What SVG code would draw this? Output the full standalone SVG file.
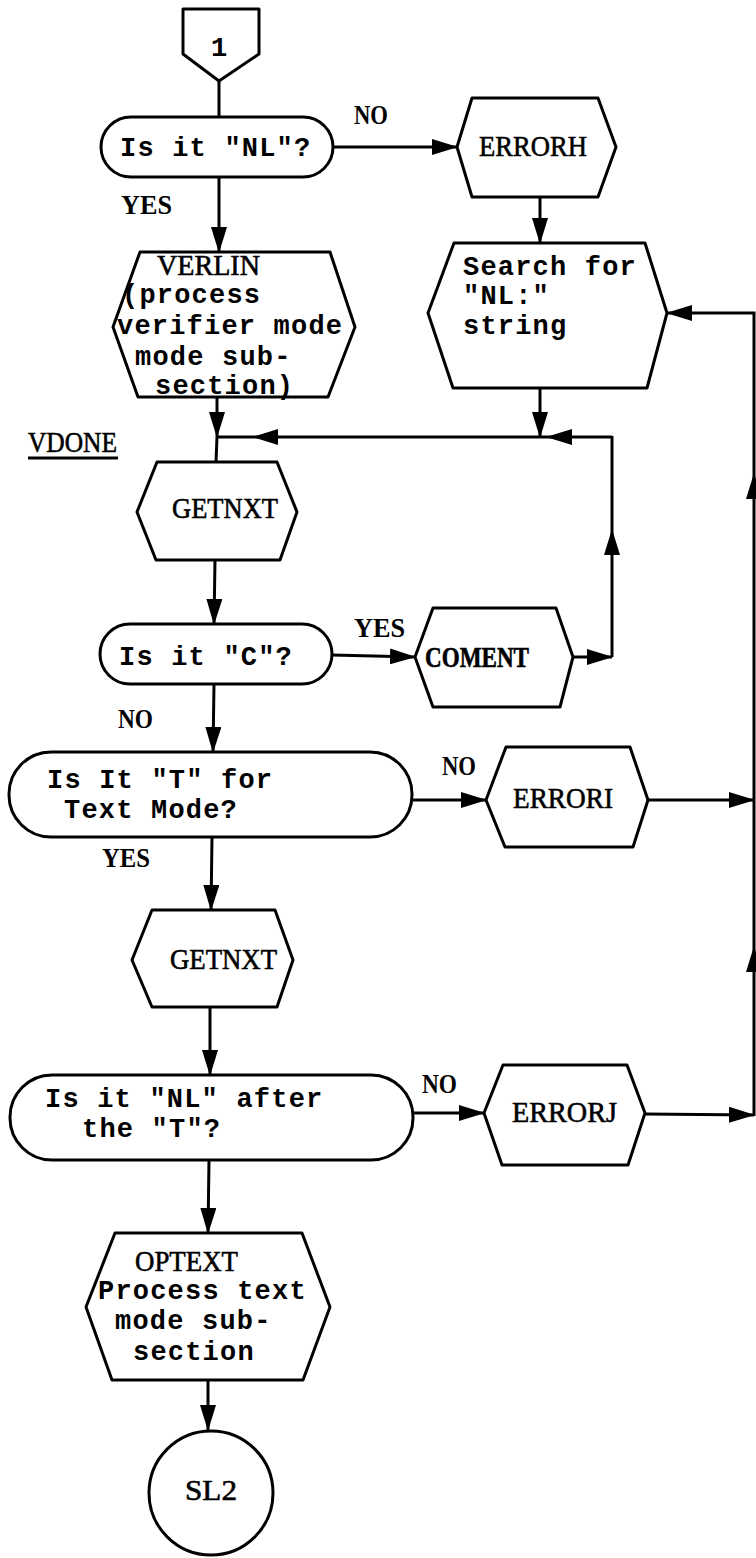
<svg xmlns="http://www.w3.org/2000/svg" width="756" height="1558" viewBox="0 0 756 1558">
<style>
.s{fill:#fff;stroke:#000;stroke-width:3;stroke-linejoin:round}
.c{fill:none;stroke:#000;stroke-width:3}
.m{font-family:"Liberation Mono","DejaVu Sans Mono",monospace;font-size:27px;letter-spacing:1.2px;font-weight:bold;fill:#000}
.l{font-family:"Liberation Serif","DejaVu Serif",serif;font-size:29px;fill:#000;stroke:#000;stroke-width:0.6px}
.y{font-family:"Liberation Serif","DejaVu Serif",serif;font-size:27px;font-weight:bold;fill:#000}
</style>
<defs>
<marker id="ah" markerUnits="userSpaceOnUse" markerWidth="26" markerHeight="16" refX="25" refY="8" orient="auto">
<path d="M0,0 L26,8 L0,16 z" fill="#000"/>
</marker>
</defs>
<rect width="756" height="1558" fill="#fff"/>
<g id="connectors">
<path class="c" d="M219,81 L219,117"/>
<path class="c" d="M333,147 L457,147" marker-end="url(#ah)"/>
<path class="c" d="M219,177 L219,252" marker-end="url(#ah)"/>
<path class="c" d="M540,197 L540,243" marker-end="url(#ah)"/>
<path class="c" d="M217,397 L217,437" marker-end="url(#ah)"/>
<path class="c" d="M217,437 L216,462"/>
<path class="c" d="M540,388 L540,437" marker-end="url(#ah)"/>
<path class="c" d="M612,437 L547,437" marker-end="url(#ah)"/>
<path class="c" d="M547,437 L253,437" marker-end="url(#ah)"/>
<path class="c" d="M253,437 L217,437"/>
<path class="c" d="M612,657 L612,530" marker-end="url(#ah)"/>
<path class="c" d="M612,530 L612,436"/>
<path class="c" d="M573,657 L612,657" marker-end="url(#ah)"/>
<path class="c" d="M332,655 L415,657" marker-end="url(#ah)"/>
<path class="c" d="M215,560 L214,624" marker-end="url(#ah)"/>
<path class="c" d="M214,684 L213,752" marker-end="url(#ah)"/>
<path class="c" d="M412,800 L486,800" marker-end="url(#ah)"/>
<path class="c" d="M648,800 L754,800" marker-end="url(#ah)"/>
<path class="c" d="M212,837 L211,910" marker-end="url(#ah)"/>
<path class="c" d="M210,1007 L210,1075" marker-end="url(#ah)"/>
<path class="c" d="M413,1113 L484,1113" marker-end="url(#ah)"/>
<path class="c" d="M645,1114 L754,1115" marker-end="url(#ah)"/>
<path class="c" d="M754,1116 L754,947" marker-end="url(#ah)"/>
<path class="c" d="M754,947 L754,474" marker-end="url(#ah)"/>
<path class="c" d="M754,474 L754,313 L667,313" marker-end="url(#ah)"/>
<path class="c" d="M209,1160 L208,1233" marker-end="url(#ah)"/>
<path class="c" d="M208,1380 L208,1430" marker-end="url(#ah)"/>
</g>
<g id="n_start">
<polygon class="s" points="183,9 259,9 259,54 219,81 183,54"/>
<text class="m" x="211" y="56">1</text>
</g>
<g id="n_isNL">
<rect class="s" x="101" y="117" width="232" height="60" rx="30"/>
<text class="m" x="120" y="156">Is it "NL"?</text>
</g>
<g id="n_errorh">
<polygon class="s" points="472,98 598,98 616,147 598,197 472,197 457,147"/>
<text class="l" x="479" y="156" textLength="108" lengthAdjust="spacingAndGlyphs">ERRORH</text>
</g>
<g id="n_search">
<polygon class="s" points="454,243 645,243 667,313 647,388 453,388 428,313"/>
<text class="m" x="463" y="275">Search for</text>
<text class="m" x="463" y="304">"NL:"</text>
<text class="m" x="463" y="334">string</text>
</g>
<g id="n_verlin">
<polygon class="s" points="140,252 330,252 355,327 328,397 138,397 113,327"/>
<text class="l" x="157" y="275" textLength="103" lengthAdjust="spacingAndGlyphs">VERLIN</text>
<text class="m" x="122" y="303">(process</text>
<text class="m" x="117" y="334">verifier mode</text>
<text class="m" x="135" y="365">mode sub-</text>
<text class="m" x="155" y="394">section)</text>
</g>
<g id="n_getnxt1">
<polygon class="s" points="157,462 277,462 297,512 280,560 156,560 137,512"/>
<text class="l" x="172" y="518" textLength="106" lengthAdjust="spacingAndGlyphs">GETNXT</text>
</g>
<g id="n_isC">
<rect class="s" x="100" y="624" width="232" height="60" rx="30"/>
<text class="m" x="119" y="665">Is it "C"?</text>
</g>
<g id="n_coment">
<polygon class="s" points="433,608 556,608 573,657 560,707 433,707 415,657"/>
<text class="l" x="425" y="667" font-weight="bold" textLength="104" lengthAdjust="spacingAndGlyphs">COMENT</text>
</g>
<g id="n_isT">
<rect class="s" x="9" y="752" width="403" height="85" rx="42"/>
<text class="m" x="47" y="788">Is It "T" for</text>
<text class="m" x="64" y="818">Text Mode?</text>
</g>
<g id="n_errori">
<polygon class="s" points="506,747 630,747 648,800 633,847 505,847 486,800"/>
<text class="l" x="513" y="808" textLength="100" lengthAdjust="spacingAndGlyphs">ERRORI</text>
</g>
<g id="n_getnxt2">
<polygon class="s" points="152,910 275,910 293,960 277,1007 152,1007 132,960"/>
<text class="l" x="170" y="969" textLength="107" lengthAdjust="spacingAndGlyphs">GETNXT</text>
</g>
<g id="n_isNL2">
<rect class="s" x="10" y="1075" width="403" height="85" rx="42"/>
<text class="m" x="45" y="1107">Is it "NL" after</text>
<text class="m" x="82" y="1137">the "T"?</text>
</g>
<g id="n_errorj">
<polygon class="s" points="503,1065 627,1065 645,1113 628,1165 502,1165 484,1113"/>
<text class="l" x="512" y="1122" textLength="105" lengthAdjust="spacingAndGlyphs">ERRORJ</text>
</g>
<g id="n_optext">
<polygon class="s" points="115,1233 302,1233 330,1307 303,1380 112,1380 86,1307"/>
<text class="l" x="135" y="1271" textLength="103" lengthAdjust="spacingAndGlyphs">OPTEXT</text>
<text class="m" x="98" y="1299">Process text</text>
<text class="m" x="115" y="1329">mode sub-</text>
<text class="m" x="133" y="1360">section</text>
</g>
<g id="n_sl2">
<circle class="s" cx="211" cy="1493" r="62"/>
<text class="l" x="185" y="1500" textLength="52" lengthAdjust="spacingAndGlyphs">SL2</text>
</g>
<g id="labels">
<text class="y" x="354" y="124" textLength="34" lengthAdjust="spacingAndGlyphs">NO</text>
<text class="y" x="121" y="214" textLength="51" lengthAdjust="spacingAndGlyphs">YES</text>
<text class="l" x="28" y="452" textLength="89" lengthAdjust="spacingAndGlyphs">VDONE</text>
<path class="c" d="M28,458 L118,458" stroke-width="2"/>
<text class="y" x="354" y="637" textLength="51" lengthAdjust="spacingAndGlyphs">YES</text>
<text class="y" x="118" y="728" textLength="35" lengthAdjust="spacingAndGlyphs">NO</text>
<text class="y" x="442" y="775" textLength="34" lengthAdjust="spacingAndGlyphs">NO</text>
<text class="y" x="102" y="867" textLength="48" lengthAdjust="spacingAndGlyphs">YES</text>
<text class="y" x="422" y="1093" textLength="35" lengthAdjust="spacingAndGlyphs">NO</text>
</g>
</svg>
